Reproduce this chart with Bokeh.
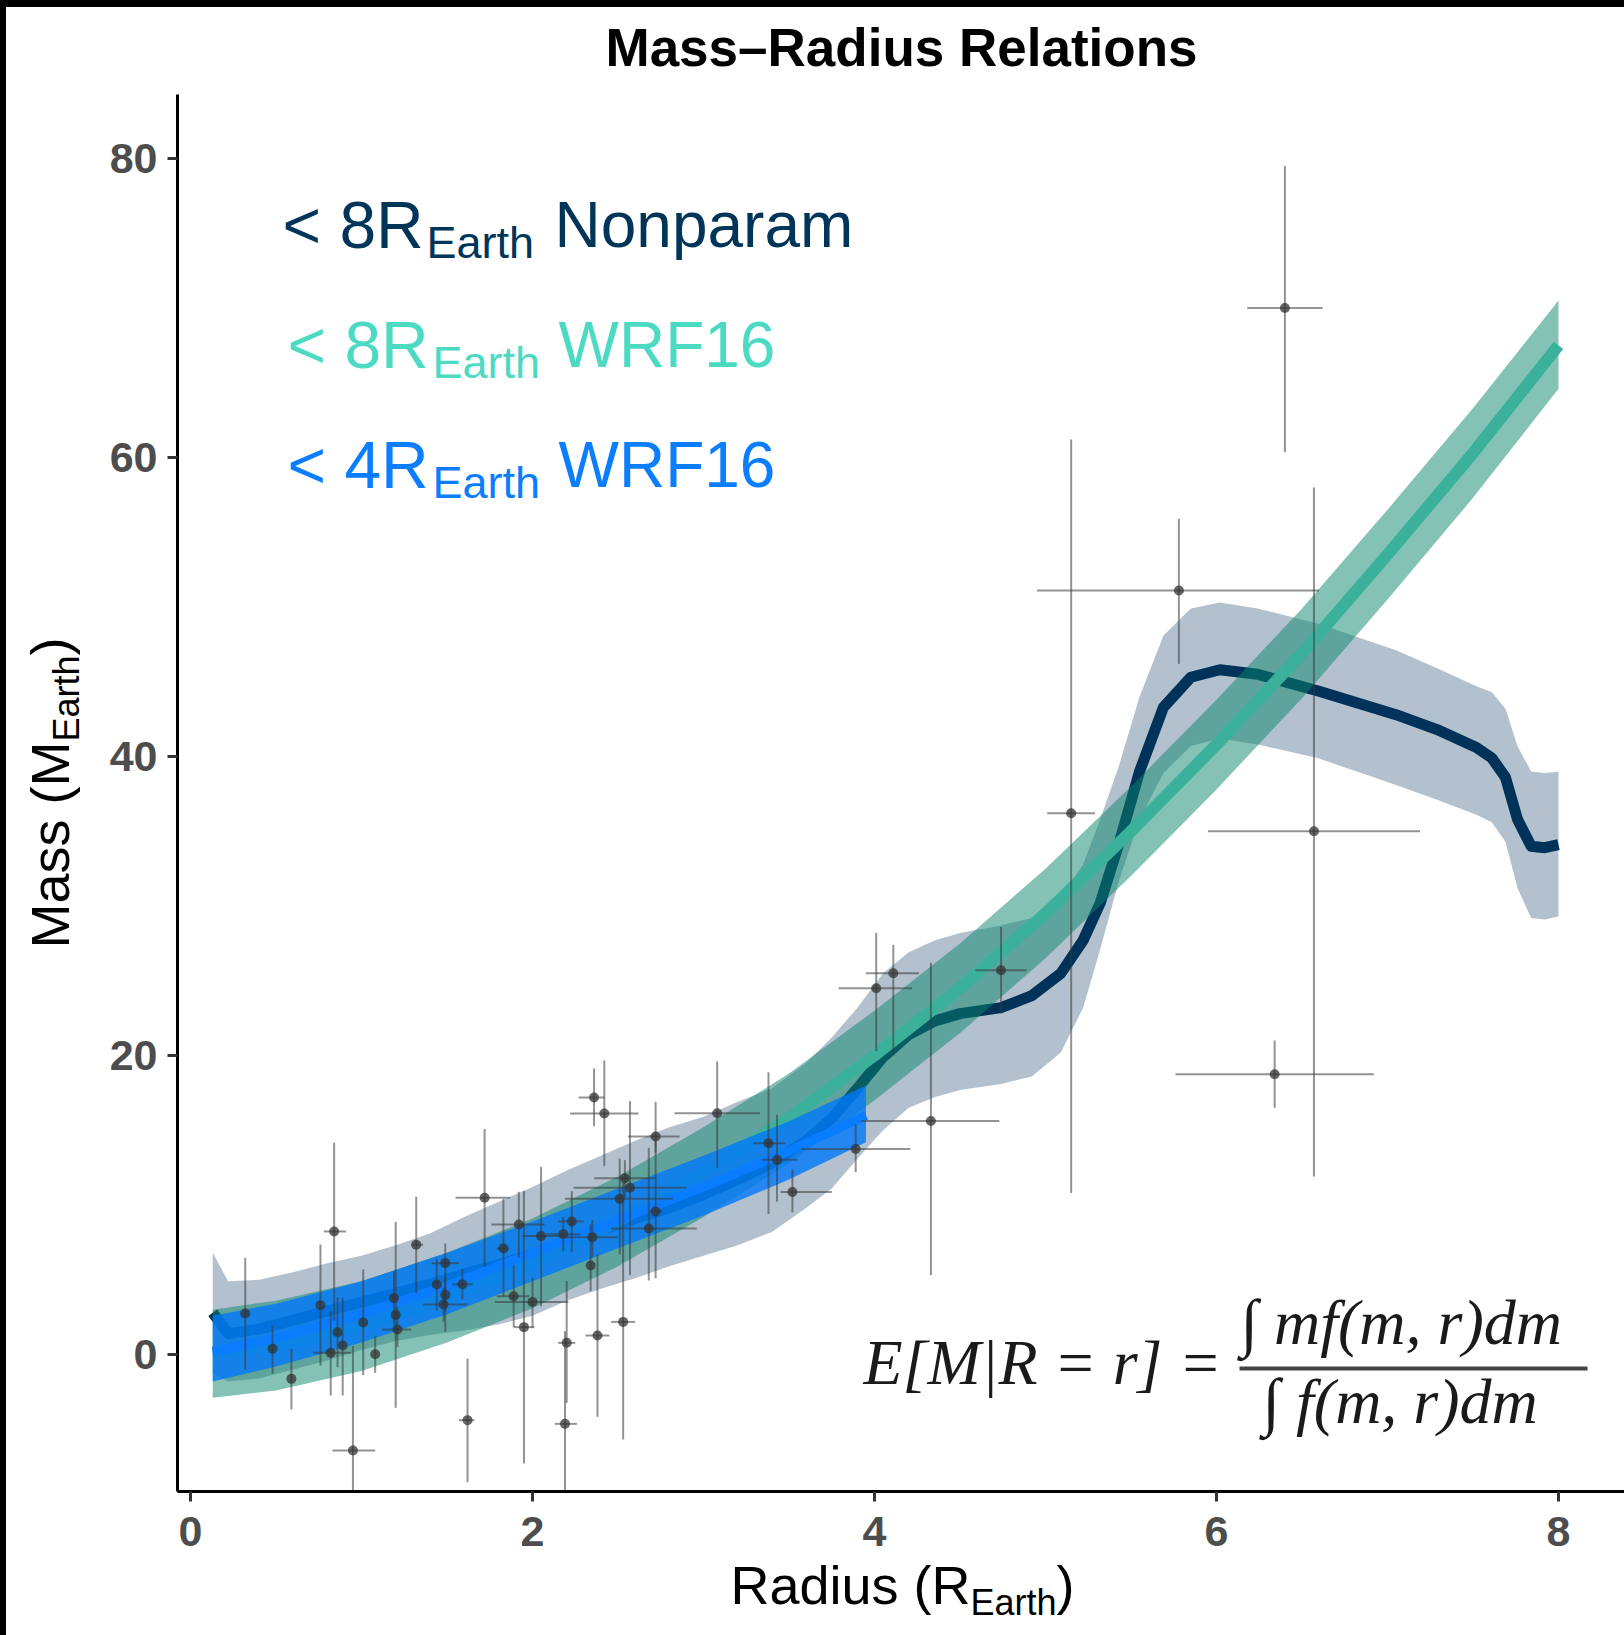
import math
from bokeh.plotting import figure
from bokeh.models import Range1d, Label, FixedTicker, BoxAnnotation
from bokeh.embed import file_html
from bokeh.resources import INLINE

# ---------------- data ----------------
nonparam_r = [0.13, 0.22, 0.4, 0.6, 0.8, 1.0, 1.2, 1.4, 1.6, 1.8, 2.0, 2.2, 2.4, 2.6, 2.8,
              3.0, 3.2, 3.4, 3.6, 3.75, 3.9, 4.05, 4.2, 4.35, 4.5, 4.74, 4.92, 5.09, 5.22,
              5.32, 5.43, 5.55, 5.69, 5.85, 6.02, 6.24, 6.59, 7.05, 7.29, 7.52, 7.61, 7.69,
              7.76, 7.84, 7.92, 8.0]
nonparam_m = [2.8, 1.4, 1.7, 2.3, 2.9, 3.5, 4.1, 4.7, 5.4, 6.0, 6.7, 7.5, 8.3, 9.1, 9.8,
              10.7, 11.7, 12.8, 14.3, 15.8, 17.8, 19.9, 21.4, 22.3, 22.8, 23.2, 24.0, 25.5, 27.7,
              30.2, 34.2, 39.0, 43.3, 45.3, 45.8, 45.5, 44.4, 42.8, 41.8, 40.6, 39.9, 38.6,
              35.8, 34.0, 33.9, 34.1]
nonparam_hi = [6.8, 4.9, 5.0, 5.5, 6.1, 6.6, 7.3, 8.1, 9.2, 10.2, 11.2, 12.3, 13.3, 14.3, 15.2,
               15.9, 16.9, 17.8, 19.5, 21.2, 23.2, 25.5, 26.9, 27.7, 28.2, 28.7, 29.2, 30.6, 32.8,
               35.8, 39.4, 44.0, 48.1, 49.9, 50.3, 49.9, 48.9, 47.1, 45.9, 44.7, 44.3, 43.2,
               40.7, 39.0, 38.9, 39.0]
nonparam_lo = [-1.2, -1.8, -1.6, -1.0, -0.4, 0.3, 0.9, 1.3, 1.6, 2.0, 2.6, 3.6, 4.4, 5.1, 5.9,
               6.6, 7.3, 8.2, 9.8, 11.1, 13.1, 15.0, 16.5, 17.2, 17.7, 18.1, 18.6, 20.2, 23.2,
               27.1, 31.7, 35.8, 38.9, 40.7, 41.2, 40.8, 39.9, 38.1, 37.1, 36.1, 35.6, 34.3,
               31.2, 29.2, 29.1, 29.3]

wrf8_r = [0.13, 0.5, 1.0, 1.5, 2.0, 2.5, 3.0, 3.5, 4.0, 4.5, 5.0, 5.5, 6.0, 6.5, 7.0, 7.5, 8.0]
wrf8_m = [0.1, 0.6, 1.9, 3.8, 6.1, 8.9, 12.2, 15.8, 20.0, 24.5, 29.5, 35.0, 40.8, 46.9, 53.5, 60.3, 67.5]
wrf8_hi = [3.0, 3.6, 4.9, 6.8, 9.1, 11.9, 15.2, 18.8, 23.0, 27.5, 32.5, 38.0, 43.8, 49.9, 56.5, 63.3, 70.5]
wrf8_lo = [-2.9, -2.4, -1.1, 0.8, 3.1, 5.9, 9.2, 12.8, 17.0, 21.5, 26.5, 32.0, 37.8, 43.9, 50.5, 57.3, 64.6]

wrf4_r = [0.13, 0.5, 1.0, 1.5, 2.0, 2.5, 3.0, 3.5, 3.95]
wrf4_m = [0.2, 1.1, 2.7, 4.6, 6.8, 9.0, 11.2, 13.6, 16.0]
wrf4_hi = [2.6, 3.4, 4.9, 6.8, 8.9, 11.1, 13.3, 15.6, 18.0]
wrf4_lo = [-1.8, -0.8, 0.8, 2.7, 4.9, 7.1, 9.3, 11.7, 14.2]

planet_r = [0.32, 0.48, 0.59, 0.76, 0.82, 0.84, 0.86, 0.89, 0.95, 1.01, 1.08, 1.19, 1.20, 1.21,
            1.32, 1.44, 1.49, 1.49, 1.48, 1.59, 1.62, 1.72, 1.83, 1.92, 1.89, 1.95, 2.00, 2.05,
            2.18, 2.20, 2.19, 2.23, 2.35, 2.34, 2.36, 2.42, 2.38, 2.51, 2.54, 2.57, 2.53, 2.68,
            2.72, 2.72, 3.08, 3.38, 3.43, 3.52, 3.89, 4.33, 4.01, 4.11, 4.74, 5.15, 5.78, 6.40,
            6.57, 6.34]
planet_m = [2.74, 0.38, -1.63, 3.30, 0.11, 8.23, 1.49, 0.60, -6.42, 2.14, 0.02, 3.77, 2.65, 1.67,
            7.34, 4.68, 6.11, 3.99, 3.34, 4.70, -4.39, 10.48, 7.09, 8.70, 3.90, 1.83, 3.52, 7.92,
            8.05, 0.78, -4.64, 8.90, 7.85, 5.95, 17.19, 16.12, 1.27, 10.41, 11.79, 11.15, 2.18, 8.43,
            9.57, 14.58, 16.14, 14.13, 13.02, 10.87, 13.75, 15.62, 24.5, 25.5, 25.7, 36.2, 51.1, 70.0,
            35.0, 18.75]
r_lo = [0.32, 0.48, 0.59, 0.76, 0.72, 0.78, 0.86, 0.89, 0.83, 1.01, 1.08, 1.19, 1.20, 1.12,
        1.29, 1.44, 1.41, 1.49, 1.36, 1.53, 1.57, 1.55, 1.79, 1.76, 1.79, 1.89, 1.78, 1.94,
        2.08, 2.15, 2.13, 2.15, 2.19, 2.34, 2.27, 2.22, 2.31, 2.19, 2.36, 2.24, 2.46, 2.46,
        2.68, 2.56, 2.83, 3.29, 3.34, 3.45, 3.57, 3.92, 3.79, 3.95, 4.59, 5.01, 4.95, 6.18,
        5.95, 5.76]
r_hi = [0.32, 0.48, 0.59, 0.76, 0.94, 0.91, 0.86, 0.89, 1.08, 1.01, 1.08, 1.19, 1.20, 1.29,
        1.36, 1.44, 1.57, 1.49, 1.62, 1.65, 1.66, 1.87, 1.86, 2.07, 1.98, 2.01, 2.21, 2.19,
        2.28, 2.25, 2.26, 2.30, 2.50, 2.34, 2.42, 2.62, 2.45, 2.82, 2.72, 2.90, 2.60, 2.96,
        2.76, 2.86, 3.33, 3.48, 3.55, 3.75, 4.21, 4.73, 4.22, 4.26, 4.89, 5.29, 6.60, 6.62,
        7.19, 6.92]
m_lo = [-1.0, -1.29, -3.68, -0.74, -2.74, 2.27, -0.85, -2.74, -9.1, -1.38, -1.23, 2.0, -3.57, 0.5,
        4.08, 2.94, 1.52, 2.9, 2.2, 3.68, -8.54, 5.86, 3.90, 6.47, 1.83, -7.29, 1.78, 3.23,
        6.9, -3.23, -9.1, 6.85, 6.5, 4.24, 15.27, 12.6, -4.17, 6.7, 10.5, 5.31, -5.69, 4.95,
        5.1, 13.5, 12.5, 9.4, 10.22, 9.5, 12.2, 5.31, 20.3, 20.0, 22.8, 10.8, 46.2, 60.35,
        11.9, 16.5]
m_hi = [6.47, 1.96, 0.38, 7.36, 2.9, 14.16, 3.83, 3.79, 0.56, 5.69, 1.23, 5.57, 8.87, 3.2,
        10.55, 6.42, 7.42, 5.2, 4.5, 5.69, -0.27, 15.09, 10.41, 10.88, 6.0, 10.93, 5.13, 12.55,
        9.2, 4.91, 1.56, 10.93, 9.0, 8.70, 19.13, 19.67, 6.69, 13.1, 13.0, 16.95, 11.48, 13.82,
        14.3, 16.9, 19.6, 18.88, 16.04, 12.4, 15.4, 26.2, 28.2, 27.4, 28.6, 61.2, 55.9, 79.5,
        58.0, 21.0]

x_ticks = [0, 2, 4, 6, 8]
y_ticks = [0, 20, 40, 60, 80]

# ---------------- styling ----------------
NAVY = "#01325a"
NAVY_TXT = "#00355a"
TEAL_BAND = "#09856b"
TEAL_LINE = "#3bb19b"
TEAL_TXT = "#4cdac3"
BLUE_BAND = "#0078fa"
BLUE_LINE = "#0a7cff"
BLUE_TXT = "#0b7dff"
SANS = "Liberation Sans"
SERIF = "Liberation Serif"

# page pixel -> data coordinate helpers (placement of texts / axes only)
PX0, PXU = 190.0, 171.0
PY0, PYU = 1354.0, 14.95
BASE = 0.36   # empirical baseline correction (fraction of font size)
CX, CY = 6, 7          # canvas origin on the page (black frame edges)
CW, CH = 1624, 1635    # rendered canvas size


def dx(px):
    return (px - PX0) / PXU


def dy(py):
    return (PY0 - py) / PYU


p = figure(width=1618, height=1628, output_backend="svg", toolbar_location=None,
           x_range=Range1d(dx(CX), dx(CX + CW)), y_range=Range1d(dy(CY + CH), dy(CY)),
           min_border=0, min_border_left=0, min_border_right=0,
           min_border_top=0, min_border_bottom=0)
p.styles = {"border-left": "6px solid black", "border-top": "7px solid black",
            "box-sizing": "content-box"}
p.outline_line_color = None
p.grid.visible = False

for ax, ticks in ((p.xaxis, x_ticks), (p.yaxis, y_ticks)):
    ax.ticker = FixedTicker(ticks=ticks)
    ax.axis_line_color = "black"
    ax.axis_line_width = 3
    ax.major_tick_line_color = "#333333"
    ax.major_tick_line_width = 3
    ax.major_tick_out = 10
    ax.major_tick_in = 0
    ax.minor_tick_line_color = None
    ax.major_label_text_font = SANS
    ax.major_label_text_font_style = "bold"
    ax.major_label_text_font_size = "43px"
    ax.major_label_text_color = "#4d4d4d"
p.xaxis.fixed_location = dy(1491)
p.yaxis.fixed_location = dx(177)
p.xaxis.bounds = (dx(177), dx(1624))
p.yaxis.bounds = (dy(1491), dy(94))
p.xaxis.major_label_standoff = 15
p.yaxis.major_label_standoff = 10

p.varea(x=nonparam_r, y1=nonparam_lo, y2=nonparam_hi, fill_color=NAVY, fill_alpha=0.3)
p.line(nonparam_r, nonparam_m, line_color=NAVY, line_width=11, line_cap="butt", line_join="round")
p.varea(x=wrf8_r, y1=wrf8_lo, y2=wrf8_hi, fill_color=TEAL_BAND, fill_alpha=0.5)
p.line(wrf8_r, wrf8_m, line_color=TEAL_LINE, line_width=12, line_cap="butt", line_join="round")
p.varea(x=wrf4_r, y1=wrf4_lo, y2=wrf4_hi, fill_color=BLUE_BAND, fill_alpha=0.8)
p.line(wrf4_r, wrf4_m, line_color=BLUE_LINE, line_width=9, line_cap="butt", line_join="round")

p.segment(x0=r_lo, y0=planet_m, x1=r_hi, y1=planet_m, line_color="#3a3a3a", line_alpha=0.55, line_width=2)
p.segment(x0=planet_r, y0=m_lo, x1=planet_r, y1=m_hi, line_color="#3a3a3a", line_alpha=0.55, line_width=2)
p.scatter(planet_r, planet_m, size=10, fill_color="#333333", line_color=None, fill_alpha=0.75)


def lab(px, py, text, size, color="black", font=SANS, style="normal", align="left", angle=0.0):
    fs = float(size.replace("px", ""))
    if angle == 0.0:
        py = py - BASE * fs
    else:
        px = px - BASE * fs
    p.add_layout(Label(x=dx(px), y=dy(py), text=text, text_font=font, text_font_size=size,
                       text_font_style=style, text_color=color, text_align=align,
                       text_baseline="alphabetic", angle=angle))


# title
lab(901, 66, "Mass\u2013Radius Relations", "53px", style="bold", align="center")

# legend texts
lab(282, 248, "< 8R", "66px", NAVY_TXT)
lab(426, 258, "Earth", "45px", NAVY_TXT)
lab(554, 248, "Nonparam", "64px", NAVY_TXT)
lab(287, 368, "< 8R", "66px", TEAL_TXT)
lab(432, 378, "Earth", "45px", TEAL_TXT)
lab(558, 368, "WRF16", "64px", TEAL_TXT)
lab(287, 488, "< 4R", "66px", BLUE_TXT)
lab(432, 498, "Earth", "45px", BLUE_TXT)
lab(558, 488, "WRF16", "64px", BLUE_TXT)

# formula
lab(863, 1385, "E[M|R = r] =", "64px", "#1a1a1a", SERIF, "italic")
lab(1240, 1345, "\u222b mf(m, r)dm", "64px", "#1a1a1a", SERIF, "italic")
lab(1262, 1424, "\u222b f(m, r)dm", "64px", "#1a1a1a", SERIF, "italic")
p.add_layout(BoxAnnotation(left=dx(1239), right=dx(1587), bottom=dy(1370), top=dy(1366),
                           fill_color="#444444", fill_alpha=1.0, line_color=None))

# x axis title
lab(730, 1604, "Radius (R", "54px")
lab(970, 1615, "Earth", "36px")
lab(1056, 1604, ")", "54px")

# y axis title (rotated)
A = math.pi / 2
lab(69, 948, "Mass (M", "54px", angle=A)
lab(79, 741, "Earth", "36px", angle=A)
lab(69, 655, ")", "54px", angle=A)

open("out.html", "w").write(file_html(p, INLINE))
